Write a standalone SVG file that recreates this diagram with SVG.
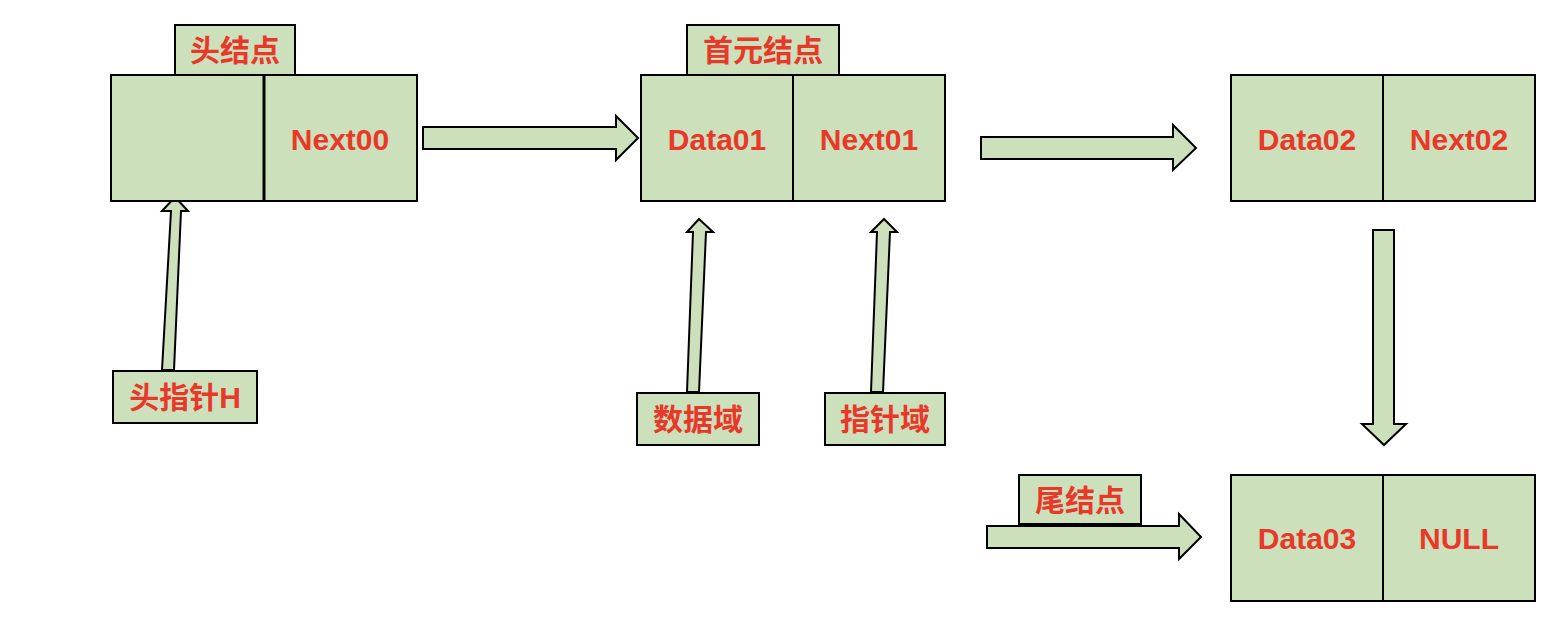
<svg xmlns="http://www.w3.org/2000/svg" width="1556" height="636" viewBox="0 0 1556 636">
<style>
.box{fill:#cce0bb;stroke:#000;stroke-width:2}
.div{stroke:#000;stroke-width:2}
.arr{fill:#cce0bb;stroke:#000;stroke-width:2;stroke-linejoin:miter}
text{font-family:"Liberation Sans","Noto Sans CJK SC",sans-serif;font-weight:bold;font-size:30px;fill:#e8382a;text-anchor:middle}
</style>
<rect width="1556" height="636" fill="#ffffff"/>
<g id="connectors">
<polygon class="arr" points="175,197 188,211 181,211 174,370 162,370 171,211 162,211"/>
<polygon class="arr" points="699,219 713,232 706,232 699,392 687,392 693,232 687,232"/>
<polygon class="arr" points="884,219 897,232 890,232 883,392 871,392 877,232 871,232"/>
<polygon class="arr" points="423,127 616,127 616,116 638,138 616,160 616,149 423,149"/>
<polygon class="arr" points="981,137 1173,137 1173,125 1196,148 1173,170 1173,159 981,159"/>
<polygon class="arr" points="1373,230 1394,230 1394,424 1406,424 1384,445 1362,424 1373,424"/>
<polygon class="arr" points="987,526 1179,526 1179,514 1201,537 1179,559 1179,548 987,548"/>
</g>
<g id="head-label">
<rect class="box" x="175" y="25" width="120" height="50"/>
<text x="235" y="61">头结点</text>
</g>
<g id="head-node">
<rect class="box" x="111" y="75" width="306" height="126"/>
<line x1="264" y1="75" x2="264" y2="201" stroke="#000" stroke-width="3"/>
<text x="340" y="150">Next00</text>
</g>
<g id="first-label">
<rect class="box" x="687" y="25" width="152" height="50"/>
<text x="763" y="61">首元结点</text>
</g>
<g id="node1">
<rect class="box" x="641" y="75" width="304" height="126"/>
<line class="div" x1="793" y1="75" x2="793" y2="201"/>
<text x="717" y="150">Data01</text>
<text x="869" y="150">Next01</text>
</g>
<g id="node2">
<rect class="box" x="1231" y="75" width="304" height="126"/>
<line class="div" x1="1383" y1="75" x2="1383" y2="201"/>
<text x="1307" y="150">Data02</text>
<text x="1459" y="150">Next02</text>
</g>
<g id="node3">
<rect class="box" x="1231" y="475" width="304" height="126"/>
<line class="div" x1="1383" y1="475" x2="1383" y2="601"/>
<text x="1307" y="549">Data03</text>
<text x="1459" y="549">NULL</text>
</g>
<g id="tail-label">
<rect class="box" x="1019" y="475" width="122" height="49"/>
<text x="1080" y="511">尾结点</text>
</g>
<g id="head-pointer">
<rect class="box" x="113" y="371" width="144" height="52"/>
<text x="185" y="408">头指针H</text>
</g>
<g id="data-field">
<rect class="box" x="637" y="393" width="122" height="52"/>
<text x="698" y="430">数据域</text>
</g>
<g id="pointer-field">
<rect class="box" x="825" y="393" width="120" height="52"/>
<text x="885" y="430">指针域</text>
</g>
</svg>
